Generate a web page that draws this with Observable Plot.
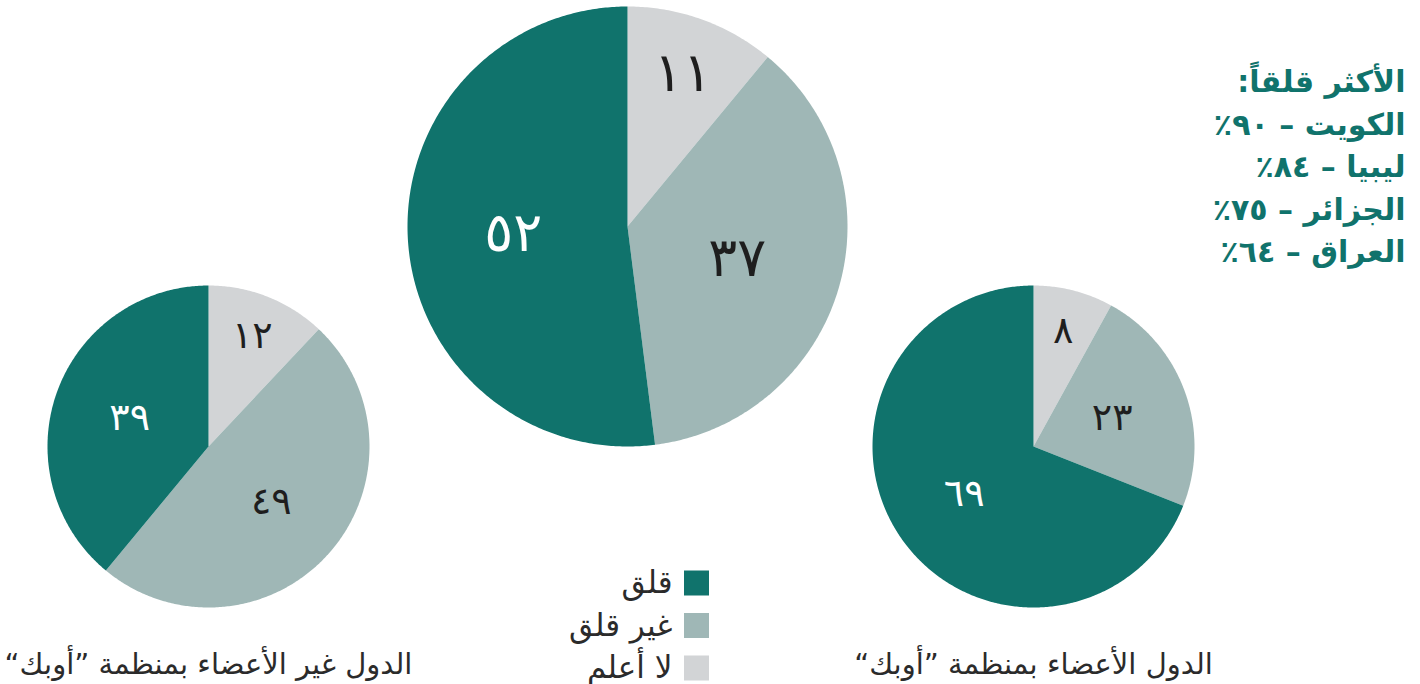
<!DOCTYPE html>
<html><head><meta charset="utf-8">
<script src="https://cdn.jsdelivr.net/npm/d3@7"></script>
<script src="https://cdn.jsdelivr.net/npm/@observablehq/plot@0.6"></script>
<style>html,body{margin:0;padding:0;background:#fff;overflow:hidden}</style>
</head><body><div id="chart"></div>
<script>
// ---- data ----
const categories = ["لا أعلم", "غير قلق", "قلق"];
const colors = ["#d2d4d6", "#9fb7b6", "#10736c"];
const pieNames = ["الكل", "الدول غير الأعضاء بمنظمة ”أوبك“", "الدول الأعضاء بمنظمة ”أوبك“"];
const allValues = [11, 37, 52];
const nonOpecValues = [12, 49, 39];
const opecValues = [8, 23, 69];
const topTitle = "الأكثر قلقاً:";
const topCountries = ["الكويت", "ليبيا", "الجزائر", "العراق"];
const topValues = [90, 84, 75, 64];

// ---- layout (pixels) ----
const W = 1420, H = 684;
const layout = [
  {cx: 627, cy: 226, r: 220, fs: 54, title: false},
  {cx: 208, cy: 446, r: 161, fs: 38, title: true},
  {cx: 1033, cy: 446, r: 161, fs: 38, title: true}
];
const seriesValues = [allValues, nonOpecValues, opecValues];
const FONT = "DejaVu Sans, sans-serif";
const RLM = "\u200F";
const rtl = s => RLM + s + RLM;
const arDigits = n => String(n).replace(/\d/g, d => "٠١٢٣٤٥٦٧٨٩"[+d]);

// build slice polygons & labels from values
const polys = [], labels = [];
seriesValues.forEach((vals, p) => {
  const L = layout[p];
  const arcs = d3.pie().sort(null).value(d => d)(vals);
  arcs.forEach((a, i) => {
    const id = p + "-" + i;
    polys.push({id, cat: categories[i], x: L.cx, y: L.cy});
    const steps = Math.max(2, Math.ceil((a.endAngle - a.startAngle) / 0.01));
    for (let k = 0; k <= steps; k++) {
      const t = a.startAngle + (a.endAngle - a.startAngle) * k / steps;
      polys.push({id, cat: categories[i], x: L.cx + L.r * Math.sin(t), y: L.cy - L.r * Math.cos(t)});
    }
    const mid = (a.startAngle + a.endAngle) / 2;
    const share = vals[i] / d3.sum(vals);
    const rl = L.r * (share < 0.15 ? 0.74 : 0.52);
    labels.push({x: L.cx + rl * Math.sin(mid), y: L.cy - rl * Math.cos(mid),
      text: arDigits(vals[i]), fill: i === 2 ? "#ffffff" : "#1e1e1e", fs: L.fs});
  });
});

const titles = pieNames.map((n, p) => ({n, p})).filter(d => layout[d.p].title)
  .map(d => ({x: layout[d.p].cx, y: 664, text: rtl(d.n)}));

const annot = [rtl(topTitle), ...topCountries.map((c, i) => rtl(c + " – " + arDigits(topValues[i]) + "٪"))]
  .map((t, i) => ({x: 1405, y: 82 + i * 42.5, text: t}));

const legend = categories.slice().reverse().map((c, i) => ({c, y: 583 + i * 42.5}));

const chart = Plot.plot({
  width: W, height: H,
  margin: 0,
  x: {domain: [0, W], range: [0, W], axis: null},
  y: {domain: [0, H], range: [0, H], axis: null},
  color: {domain: categories, range: colors},
  style: {background: "#fff"},
  marks: [
    Plot.line(polys, {x: "x", y: "y", z: "id", fill: "cat", stroke: "none", curve: "linear-closed"}),
    Plot.text(labels, {x: "x", y: "y", text: "text", fill: "fill", fontSize: d => d.fs, fontFamily: FONT}),
    Plot.text(titles, {x: "x", y: "y", text: "text", fill: "#2b2b2b", fontSize: 29, fontFamily: FONT}),
    Plot.text(annot, {x: "x", y: "y", text: "text", fill: "#10736c", fontSize: 30, fontWeight: "bold", textAnchor: "end", fontFamily: FONT}),
    Plot.rect(legend, {x1: () => 684, x2: () => 709, y1: d => d.y - 12.5, y2: d => d.y + 12.5, fill: "c"}),
    Plot.text(legend, {x: () => 672, y: "y", text: d => rtl(d.c), fill: "#2b2b2b", fontSize: 31, textAnchor: "end", fontFamily: FONT})
  ]
});
document.getElementById("chart").append(chart);
</script>
</body></html>
